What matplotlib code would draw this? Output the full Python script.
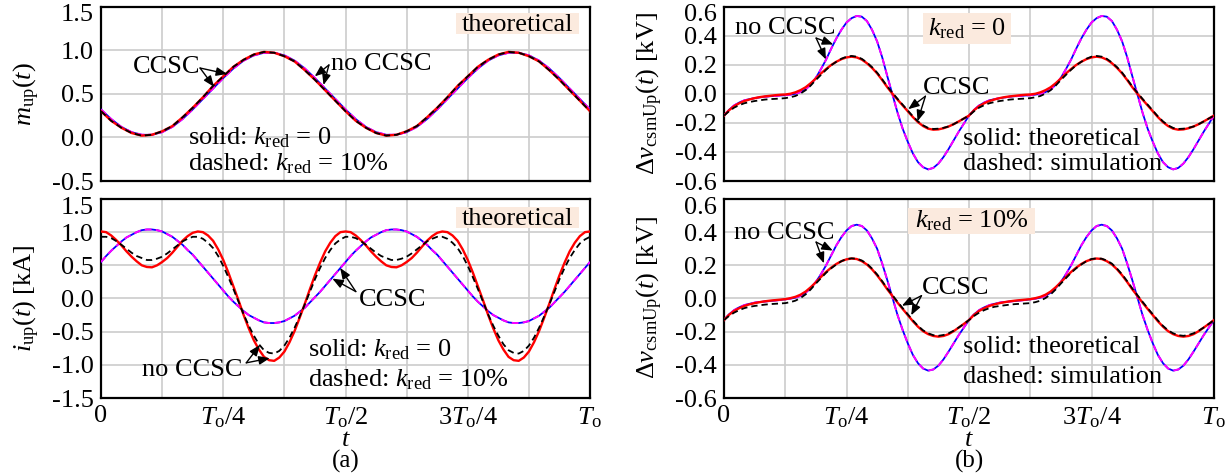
import matplotlib
matplotlib.use('Agg')
import matplotlib.pyplot as plt
import numpy as np
from matplotlib.patches import Rectangle
from matplotlib.transforms import ScaledTranslation

plt.rcParams['font.family'] = 'Liberation Serif'
plt.rcParams['mathtext.fontset'] = 'custom'
plt.rcParams['mathtext.rm'] = 'Liberation Serif'
plt.rcParams['mathtext.it'] = 'Liberation Serif:italic'
plt.rcParams['axes.unicode_minus'] = False
plt.rcParams['font.size'] = 19

# sample instants over one fundamental period To
t_coarse = np.linspace(0, 1, 49)   # every To/48
t_fine = np.linspace(0, 1, 97)     # every To/96

# upper-arm insertion index (sampled every To/48)
m_ccsc = [0.32, 0.21, 0.12, 0.06, 0.03, 0.03, 0.06, 0.12, 0.21, 0.32, 0.44, 0.56, 0.68, 0.79, 0.88, 0.94, 0.97, 0.97, 0.94, 0.88, 0.79, 0.68, 0.56, 0.44, 0.32,
          0.21, 0.12, 0.06, 0.03, 0.03, 0.06, 0.12, 0.21, 0.32, 0.44, 0.56, 0.68, 0.79, 0.88, 0.94, 0.97, 0.97, 0.94, 0.88, 0.79, 0.68, 0.56, 0.44, 0.32]
m_no_ccsc = [0.30, 0.19, 0.11, 0.05, 0.02, 0.03, 0.07, 0.13, 0.23, 0.34, 0.46, 0.59, 0.70, 0.81, 0.89, 0.95, 0.98, 0.97, 0.93, 0.87, 0.77, 0.66, 0.54, 0.42, 0.30,
             0.19, 0.11, 0.05, 0.02, 0.03, 0.07, 0.13, 0.23, 0.34, 0.46, 0.59, 0.70, 0.81, 0.89, 0.95, 0.98, 0.97, 0.93, 0.87, 0.77, 0.66, 0.54, 0.42, 0.30]

# upper-arm current [kA] (sampled every To/96)
i_ccsc = [0.55, 0.64, 0.72, 0.79, 0.86, 0.92, 0.96, 1.00, 1.03, 1.04, 1.04, 1.03, 1.01, 0.97, 0.93, 0.87, 0.81, 0.73, 0.66, 0.57, 0.48, 0.39, 0.30, 0.21, 0.12,
          0.03, -0.05, -0.12, -0.19, -0.25, -0.29, -0.33, -0.36, -0.37, -0.37, -0.36, -0.34, -0.30, -0.26, -0.20, -0.14, -0.06, 0.02, 0.10, 0.19, 0.28, 0.37, 0.46, 0.55,
          0.64, 0.72, 0.79, 0.86, 0.92, 0.96, 1.00, 1.03, 1.04, 1.04, 1.03, 1.01, 0.97, 0.93, 0.87, 0.81, 0.73, 0.66, 0.57, 0.48, 0.39, 0.30, 0.21, 0.12,
          0.03, -0.05, -0.12, -0.19, -0.25, -0.29, -0.33, -0.36, -0.37, -0.37, -0.36, -0.34, -0.30, -0.26, -0.20, -0.14, -0.06, 0.02, 0.10, 0.19, 0.28, 0.37, 0.46, 0.55]
i_no_ccsc_k0 = [1.01, 1.00, 0.95, 0.88, 0.80, 0.71, 0.63, 0.56, 0.50, 0.475, 0.47, 0.50, 0.55, 0.61, 0.69, 0.78, 0.87, 0.94, 0.99, 1.01, 1.00, 0.95, 0.87, 0.74, 0.58,
                0.39, 0.18, -0.03, -0.25, -0.45, -0.63, -0.77, -0.88, -0.93, -0.94, -0.89, -0.80, -0.66, -0.49, -0.29, -0.08, 0.14, 0.35, 0.54, 0.71, 0.84, 0.94, 1.00, 1.01,
                1.00, 0.95, 0.88, 0.80, 0.71, 0.63, 0.56, 0.50, 0.475, 0.47, 0.50, 0.55, 0.61, 0.69, 0.78, 0.87, 0.94, 0.99, 1.01, 1.00, 0.95, 0.87, 0.74, 0.58,
                0.39, 0.18, -0.03, -0.25, -0.45, -0.63, -0.77, -0.88, -0.93, -0.94, -0.89, -0.80, -0.66, -0.49, -0.29, -0.08, 0.14, 0.35, 0.54, 0.71, 0.84, 0.94, 1.00, 1.01]
i_no_ccsc_k10 = [0.93, 0.93, 0.91, 0.865, 0.81, 0.75, 0.69, 0.64, 0.61, 0.58, 0.58, 0.60, 0.63, 0.68, 0.74, 0.80, 0.86, 0.90, 0.93, 0.93, 0.90, 0.84, 0.76, 0.64, 0.49,
                 0.32, 0.14, -0.05, -0.24, -0.41, -0.56, -0.69, -0.78, -0.82, -0.83, -0.79, -0.71, -0.59, -0.44, -0.27, -0.09, 0.10, 0.29, 0.46, 0.61, 0.73, 0.83, 0.89, 0.93,
                 0.93, 0.91, 0.865, 0.81, 0.75, 0.69, 0.64, 0.61, 0.58, 0.58, 0.60, 0.63, 0.68, 0.74, 0.80, 0.86, 0.90, 0.93, 0.93, 0.90, 0.84, 0.76, 0.64, 0.49,
                 0.32, 0.14, -0.05, -0.24, -0.41, -0.56, -0.69, -0.78, -0.82, -0.83, -0.79, -0.71, -0.59, -0.44, -0.27, -0.09, 0.10, 0.29, 0.46, 0.61, 0.73, 0.83, 0.89, 0.93]

# capacitor voltage ripple [kV], k_red = 0 (sampled every To/96)
dv_no_k0 = [-0.15, -0.11, -0.08, -0.06, -0.045, -0.037, -0.03, -0.025, -0.02, -0.017, -0.015, -0.012, -0.01, -0.006, 0.0, 0.012, 0.03, 0.063, 0.11, 0.17, 0.235, 0.31, 0.38, 0.44, 0.49,
            0.52, 0.535, 0.53, 0.50, 0.44, 0.36, 0.25, 0.12, -0.005, -0.13, -0.24, -0.33, -0.41, -0.47, -0.505, -0.52, -0.51, -0.48, -0.435, -0.38, -0.32, -0.26, -0.205, -0.15,
            -0.11, -0.08, -0.06, -0.045, -0.037, -0.03, -0.025, -0.02, -0.017, -0.015, -0.012, -0.01, -0.006, 0.0, 0.012, 0.03, 0.063, 0.11, 0.17, 0.235, 0.31, 0.38, 0.44, 0.49,
            0.52, 0.535, 0.53, 0.50, 0.44, 0.36, 0.25, 0.12, -0.005, -0.13, -0.24, -0.33, -0.41, -0.47, -0.505, -0.52, -0.51, -0.48, -0.435, -0.38, -0.32, -0.26, -0.205, -0.15]
dv_ccsc_k0 = [-0.15, -0.113, -0.085, -0.065, -0.05, -0.039, -0.03, -0.023, -0.018, -0.014, -0.01, -0.007, -0.005, 0.0, 0.01, 0.025, 0.045, 0.073, 0.105, 0.14, 0.17, 0.198, 0.22, 0.238, 0.25,
              0.255, 0.25, 0.235, 0.21, 0.178, 0.14, 0.094, 0.045, 0.0, -0.04, -0.08, -0.12, -0.16, -0.195, -0.222, -0.24, -0.247, -0.245, -0.237, -0.225, -0.209, -0.19, -0.17, -0.15,
              -0.113, -0.085, -0.065, -0.05, -0.039, -0.03, -0.023, -0.018, -0.014, -0.01, -0.007, -0.005, 0.0, 0.01, 0.025, 0.045, 0.073, 0.105, 0.14, 0.17, 0.198, 0.22, 0.238, 0.25,
              0.255, 0.25, 0.235, 0.21, 0.178, 0.14, 0.094, 0.045, 0.0, -0.04, -0.08, -0.12, -0.16, -0.195, -0.222, -0.24, -0.247, -0.245, -0.237, -0.225, -0.209, -0.19, -0.17, -0.15]
dv_ccsc_k0_sim = [-0.15, -0.12, -0.095, -0.078, -0.065, -0.057, -0.05, -0.045, -0.04, -0.037, -0.035, -0.033, -0.03, -0.024, -0.015, 0.002, 0.025, 0.057, 0.095, 0.13, 0.165, 0.196, 0.22, 0.241, 0.255,
                  0.26, 0.255, 0.24, 0.215, 0.183, 0.145, 0.099, 0.05, 0.007, -0.035, -0.075, -0.115, -0.155, -0.19, -0.217, -0.235, -0.242, -0.24, -0.234, -0.225, -0.209, -0.19, -0.17, -0.15,
                  -0.12, -0.095, -0.078, -0.065, -0.057, -0.05, -0.045, -0.04, -0.037, -0.035, -0.033, -0.03, -0.024, -0.015, 0.002, 0.025, 0.057, 0.095, 0.13, 0.165, 0.196, 0.22, 0.241, 0.255,
                  0.26, 0.255, 0.24, 0.215, 0.183, 0.145, 0.099, 0.05, 0.007, -0.035, -0.075, -0.115, -0.155, -0.19, -0.217, -0.235, -0.242, -0.24, -0.234, -0.225, -0.209, -0.19, -0.17, -0.15]

# capacitor voltage ripple [kV], k_red = 10% (sampled every To/96)
dv_no_k10 = [-0.13, -0.095, -0.07, -0.053, -0.04, -0.032, -0.025, -0.021, -0.018, -0.015, -0.012, -0.009, -0.005, -0.001, 0.005, 0.016, 0.035, 0.063, 0.10, 0.147, 0.20, 0.26, 0.32, 0.37, 0.41,
             0.437, 0.445, 0.437, 0.41, 0.362, 0.30, 0.21, 0.11, 0.005, -0.10, -0.19, -0.27, -0.34, -0.39, -0.422, -0.435, -0.428, -0.405, -0.367, -0.32, -0.27, -0.22, -0.175, -0.13,
             -0.095, -0.07, -0.053, -0.04, -0.032, -0.025, -0.021, -0.018, -0.015, -0.012, -0.009, -0.005, -0.001, 0.005, 0.016, 0.035, 0.063, 0.10, 0.147, 0.20, 0.26, 0.32, 0.37, 0.41,
             0.437, 0.445, 0.437, 0.41, 0.362, 0.30, 0.21, 0.11, 0.005, -0.10, -0.19, -0.27, -0.34, -0.39, -0.422, -0.435, -0.428, -0.405, -0.367, -0.32, -0.27, -0.22, -0.175, -0.13]
dv_ccsc_k10 = [-0.13, -0.098, -0.075, -0.058, -0.045, -0.035, -0.028, -0.022, -0.017, -0.013, -0.01, -0.007, -0.004, 0.002, 0.01, 0.023, 0.042, 0.068, 0.098, 0.13, 0.16, 0.186, 0.208, 0.225, 0.236,
               0.241, 0.238, 0.225, 0.205, 0.176, 0.14, 0.099, 0.055, 0.015, -0.025, -0.063, -0.10, -0.137, -0.17, -0.197, -0.215, -0.226, -0.23, -0.226, -0.215, -0.197, -0.175, -0.153, -0.13,
               -0.098, -0.075, -0.058, -0.045, -0.035, -0.028, -0.022, -0.017, -0.013, -0.01, -0.007, -0.004, 0.002, 0.01, 0.023, 0.042, 0.068, 0.098, 0.13, 0.16, 0.186, 0.208, 0.225, 0.236,
               0.241, 0.238, 0.225, 0.205, 0.176, 0.14, 0.099, 0.055, 0.015, -0.025, -0.063, -0.10, -0.137, -0.17, -0.197, -0.215, -0.226, -0.23, -0.226, -0.215, -0.197, -0.175, -0.153, -0.13]
dv_ccsc_k10_sim = [-0.13, -0.105, -0.085, -0.07, -0.058, -0.05, -0.045, -0.041, -0.037, -0.034, -0.032, -0.03, -0.028, -0.022, -0.013, 0.003, 0.025, 0.055, 0.09, 0.123, 0.155, 0.182, 0.205, 0.225, 0.238,
                   0.242, 0.24, 0.229, 0.21, 0.18, 0.145, 0.104, 0.06, 0.02, -0.02, -0.058, -0.095, -0.132, -0.165, -0.192, -0.21, -0.221, -0.225, -0.22, -0.21, -0.194, -0.175, -0.153, -0.13,
                   -0.105, -0.085, -0.07, -0.058, -0.05, -0.045, -0.041, -0.037, -0.034, -0.032, -0.03, -0.028, -0.022, -0.013, 0.003, 0.025, 0.055, 0.09, 0.123, 0.155, 0.182, 0.205, 0.225, 0.238,
                   0.242, 0.24, 0.229, 0.21, 0.18, 0.145, 0.104, 0.06, 0.02, -0.02, -0.058, -0.095, -0.132, -0.165, -0.192, -0.21, -0.221, -0.225, -0.22, -0.21, -0.194, -0.175, -0.153, -0.13]

t_ticks = [0, 0.25, 0.5, 0.75, 1]
t_labels = ['0', r'$T_{\mathrm{o}}$/4', r'$T_{\mathrm{o}}$/2', r'3$T_{\mathrm{o}}$/4', r'$T_{\mathrm{o}}$']
m_ticks = [-0.5, 0.0, 0.5, 1.0, 1.5]
i_ticks = [-1.5, -1.0, -0.5, 0.0, 0.5, 1.0, 1.5]
v_ticks = [-0.6, -0.4, -0.2, 0.0, 0.2, 0.4, 0.6]

DASH = (0, (3.5, 2.2))
BOX = '#fbeade'

fig = plt.figure(figsize=(12.29, 4.75), dpi=100)
ax_m = fig.add_axes([0.0822, 0.6189, 0.3979, 0.3674])
ax_i = fig.add_axes([0.0822, 0.1621, 0.3979, 0.4190])
ax_v0 = fig.add_axes([0.5891, 0.6189, 0.3987, 0.3674])
ax_v10 = fig.add_axes([0.5891, 0.1621, 0.3987, 0.4190])


def style_axes(ax, yticks, with_xlabels):
    ax.set_xlim(0, 1)
    ax.set_ylim(yticks[0], yticks[-1])
    ax.set_yticks(yticks)
    ax.set_yticklabels(['%.1f' % v for v in yticks])
    ax.set_xticks(t_ticks)
    ax.set_xticks([0.125, 0.375, 0.625, 0.875], minor=True)
    ax.set_xticklabels(t_labels if with_xlabels else [])
    ax.grid(True, which='both', color='#cccccc', lw=1.2)
    ax.set_axisbelow(True)
    ax.tick_params(which='both', length=0)
    ax.tick_params(axis='y', pad=5)
    ax.tick_params(axis='x', pad=5)
    for sp in ax.spines.values():
        sp.set_linewidth(1.6)
    # top value label sits a little below the upper frame
    top = ax.get_yticklabels()[-1]
    top.set_transform(top.get_transform() + ScaledTranslation(0, -4.5 / 72, fig.dpi_scale_trans))


def four_lines(ax, t, blue, magenta, red, black):
    ax.plot(t, blue, color='blue', lw=1.3, zorder=3)
    ax.plot(t, magenta, color='magenta', lw=1.4, ls=DASH, zorder=3)
    ax.plot(t, red, color='red', lw=1.7, zorder=4)
    ax.plot(t, black, color='black', lw=1.3, ls=DASH, zorder=4)


def boxed(ax, x0, y0, x1, y1, text, tx, ty):
    ax.add_patch(Rectangle((x0, y0), x1 - x0, y1 - y0, transform=ax.transAxes,
                           facecolor=BOX, edgecolor='none', zorder=2))
    ax.text(tx, ty, text, transform=ax.transAxes, ha='center', va='baseline', zorder=6)


def pointer(ax, text, pos, tail, tips):
    ax.text(pos[0], pos[1], text, transform=ax.transAxes, ha='center', va='center', zorder=6)
    for tip in tips:
        ax.annotate('', xy=tip, xytext=tail, zorder=6,
                    arrowprops=dict(arrowstyle='-|>,head_length=0.5,head_width=0.2',
                                    color='black', lw=1.0, shrinkA=0, shrinkB=0,
                                    mutation_scale=13))


def legend_text(ax, x, y1, y2, first, second):
    ax.text(x, y1, first, transform=ax.transAxes, ha='left', va='center', zorder=6)
    ax.text(x, y2, second, transform=ax.transAxes, ha='left', va='center', zorder=6)


# (a) insertion index and arm current
style_axes(ax_m, m_ticks, False)
four_lines(ax_m, t_coarse, m_ccsc, m_ccsc, m_no_ccsc, m_no_ccsc)
boxed(ax_m, 0.726, 0.841, 0.978, 0.960, 'theoretical', 0.852, 0.862)
pointer(ax_m, 'CCSC', (0.135, 0.655), (0.2025, 0.795), [(0.258, 0.727), (0.231, 0.58)])
pointer(ax_m, 'no CCSC', (0.5726, 0.672), (0.466, 0.83), [(0.437, 0.70), (0.455, 0.60)])
legend_text(ax_m, 0.178, 0.25, 0.102, r'solid: $k_{\mathrm{red}}$ = 0', r'dashed: $k_{\mathrm{red}}$ = 10%')

style_axes(ax_i, i_ticks, True)
four_lines(ax_i, t_fine, i_ccsc, i_ccsc, i_no_ccsc_k0, i_no_ccsc_k10)
boxed(ax_i, 0.726, 0.855, 0.978, 0.962, 'theoretical', 0.852, 0.87)
pointer(ax_i, 'CCSC', (0.597, 0.49), (0.521, 0.104), [(0.489, 0.46), (0.473, 0.30)])
pointer(ax_i, 'no CCSC', (0.186, 0.14), (0.297, -0.97), [(0.325, -0.70), (0.345, -0.90)])
legend_text(ax_i, 0.423, 0.244, 0.09, r'solid: $k_{\mathrm{red}}$ = 0', r'dashed: $k_{\mathrm{red}}$ = 10%')

# (b) submodule capacitor voltage ripple
style_axes(ax_v0, v_ticks, False)
four_lines(ax_v0, t_fine, dv_no_k0, dv_no_k0, dv_ccsc_k0, dv_ccsc_k0_sim)
boxed(ax_v0, 0.407, 0.783, 0.585, 0.962, r'$k_{\mathrm{red}}$ = 0', 0.495, 0.834)
pointer(ax_v0, 'no CCSC', (0.125, 0.875), (0.188, 0.383), [(0.223, 0.339), (0.208, 0.236)])
pointer(ax_v0, 'CCSC', (0.474, 0.532), (0.411, -0.017), [(0.376, -0.106), (0.395, -0.189)])
legend_text(ax_v0, 0.487, 0.24, 0.097, 'solid: theoretical', 'dashed: simulation')

style_axes(ax_v10, v_ticks, True)
four_lines(ax_v10, t_fine, dv_no_k10, dv_no_k10, dv_ccsc_k10, dv_ccsc_k10_sim)
boxed(ax_v10, 0.375, 0.825, 0.635, 0.955, r'$k_{\mathrm{red}}$ = 10%', 0.505, 0.855)
pointer(ax_v10, 'no CCSC', (0.123, 0.83), (0.188, 0.34), [(0.222, 0.289), (0.204, 0.212)])
pointer(ax_v10, 'CCSC', (0.472, 0.554), (0.403, 0.017), [(0.363, -0.044), (0.382, -0.101)])
legend_text(ax_v10, 0.487, 0.257, 0.106, 'solid: theoretical', 'dashed: simulation')

# axis titles
W, H = 1229.0, 475.0
fig.text(27 / W, 1 - 94 / H, r'$m_{\mathrm{up}}(t)$', rotation=90, ha='center', va='center')
fig.text(27 / W, 1 - 298 / H, r'$i_{\mathrm{up}}(t)$ [kA]', rotation=90, ha='center', va='center')
fig.text(650 / W, 1 - 94 / H, r'$\Delta v_{\mathrm{csmUp}}(t)$ [kV]', rotation=90, ha='center', va='center')
fig.text(650 / W, 1 - 298 / H, r'$\Delta v_{\mathrm{csmUp}}(t)$ [kV]', rotation=90, ha='center', va='center')
fig.text(346 / W, 1 - 440 / H, r'$t$', ha='center', va='center')
fig.text(969 / W, 1 - 440 / H, r'$t$', ha='center', va='center')
fig.text(346 / W, 2 / H, '(a)', ha='center', va='bottom', fontsize=18)
fig.text(969 / W, 2 / H, '(b)', ha='center', va='bottom', fontsize=18)

fig.savefig('out.png', dpi=100)
